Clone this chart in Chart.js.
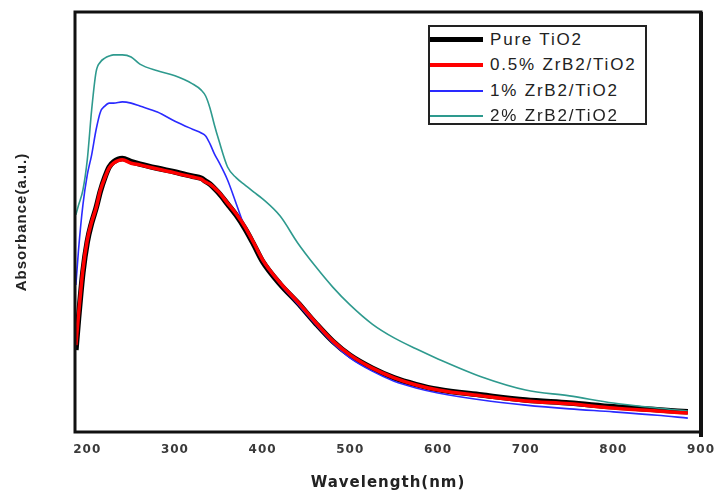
<!DOCTYPE html>
<html>
<head>
<meta charset="utf-8">
<script src="https://cdn.jsdelivr.net/npm/chart.js@4/dist/chart.umd.min.js"></script>
<style>
  html, body { margin: 0; padding: 0; background: #fff; }
  #wrap { position: relative; width: 718px; height: 497px; }
  #legend {
    position: absolute; left: 428px; top: 25px; width: 215px; height: 96px;
    border: 2px solid #222; background: #fff; box-sizing: content-box;
    font-family: "Liberation Sans", Arial, sans-serif; font-size: 17px;
    letter-spacing: 1.8px; color: #222;
  }
  .row { position: relative; height: 25.5px; }
  .sample { position: absolute; left: 0px; width: 53px; }
  .txt { position: absolute; left: 60px; top: 50%; transform: translateY(-50%); white-space: nowrap; }
</style>
</head>
<body>
<div id="wrap">
  <canvas id="c" width="718" height="497"></canvas>
  <div id="legend"></div>
</div>
<script>
const wavelength = [187,190,195,200,205,210,215,220,225,230,240,250,260,280,300,320,330,335,340,345,350,360,370,380,390,400,420,440,460,480,500,525,550,575,600,650,700,750,800,850,885];
const pureTiO2 = [19.5,27.0,38.0,45.3,49.8,53.3,57.4,60.6,63.1,64.3,65.1,64.4,63.8,62.8,61.9,60.9,60.4,59.7,59.0,58.0,56.9,54.3,51.6,48.4,44.6,40.6,35.2,30.8,26.0,21.6,18.2,15.2,12.9,11.3,10.1,8.8,7.6,6.9,6.0,5.3,4.8];
const zrb2_05 = [20.7,27.9,38.6,45.7,50.0,53.3,57.6,60.5,62.9,64.0,64.8,64.0,63.6,62.6,61.7,60.7,60.2,59.5,59.0,58.1,57.1,54.5,51.9,48.8,45.0,41.0,35.5,31.0,26.2,21.7,18.3,15.2,12.9,11.2,10.0,8.6,7.4,6.7,5.7,5.0,4.5];
const zrb2_1 = [35.0,43.3,54.0,61.2,66.0,71.9,76.2,77.6,78.3,78.3,78.6,78.3,77.6,76.2,74.0,72.1,71.2,70.5,68.6,66.2,64.3,60.0,54.3,48.6,44.8,40.7,35.2,30.5,25.7,21.2,17.6,14.5,12.1,10.5,9.3,7.6,6.4,5.5,4.8,4.0,3.3];
const zrb2_2 = [51.7,54.0,57.6,64.8,76.7,85.7,88.1,89.0,89.5,89.8,89.8,89.3,87.6,86.0,84.8,82.9,81.4,80.0,77.1,73.1,69.5,63.1,60.5,58.8,57.1,55.5,51.4,45.0,39.5,34.5,30.2,25.7,22.4,19.8,17.4,13.1,10.0,8.6,6.9,5.7,5.0];
const seriesNames = ["Pure TiO2", "0.5% ZrB2/TiO2", "1% ZrB2/TiO2", "2% ZrB2/TiO2"];
const xTickValues = [200,300,400,500,600,700,800,900];

function pts(ys) { return wavelength.map((x, i) => ({ x: x, y: ys[i] })); }

const framePlugin = {
  id: 'frame',
  beforeDraw(chart) { chart.ctx.letterSpacing = '1px'; },
  afterDatasetsDraw(chart) {
    const a = chart.chartArea, ctx = chart.ctx;
    ctx.save();
    ctx.strokeStyle = '#111';
    ctx.lineWidth = 3;
    ctx.strokeRect(a.left, a.top, a.right - a.left, a.bottom - a.top);
    ctx.lineWidth = 4;
    ctx.beginPath();
    ctx.moveTo(a.right, a.top);
    ctx.lineTo(a.right, a.bottom + 5);
    ctx.stroke();
    ctx.restore();
  }
};

const htmlLegend = {
  id: 'htmlLegend',
  afterUpdate(chart) {
    const box = document.getElementById('legend');
    box.innerHTML = '';
    chart.data.datasets.forEach(ds => {
      const row = document.createElement('div');
      row.className = 'row';
      const s = document.createElement('div');
      s.className = 'sample';
      const h = ds.legendWidth;
      s.style.height = h + 'px';
      s.style.top = 'calc(50% - ' + (h / 2) + 'px)';
      s.style.background = ds.borderColor;
      const t = document.createElement('span');
      t.className = 'txt';
      t.textContent = ds.label;
      row.appendChild(s); row.appendChild(t);
      box.appendChild(row);
    });
  }
};

new Chart(document.getElementById('c'), {
  type: 'line',
  data: {
    datasets: [
      { label: seriesNames[0], data: pts(pureTiO2), borderColor: '#000000', borderWidth: 5.5, legendWidth: 5, order: 3 },
      { label: seriesNames[1], data: pts(zrb2_05), borderColor: '#ff0000', borderWidth: 3.5, legendWidth: 4, order: 0 },
      { label: seriesNames[2], data: pts(zrb2_1), borderColor: '#2a2aff', borderWidth: 1.6, legendWidth: 2, order: 2 },
      { label: seriesNames[3], data: pts(zrb2_2), borderColor: '#2e9a8e', borderWidth: 1.6, legendWidth: 2, order: 1 }
    ]
  },
  options: {
    responsive: false,
    animation: false,
    devicePixelRatio: 1,
    layout: { padding: { left: 0, top: 12, right: 17, bottom: 0 } },
    elements: {
      point: { radius: 0 },
      line: { cubicInterpolationMode: 'monotone', fill: false }
    },
    plugins: { legend: { display: false }, tooltip: { enabled: false } },
    scales: {
      x: {
        type: 'linear', min: 186, max: 900,
        grid: { display: false, drawTicks: false },
        border: { display: false },
        ticks: { includeBounds: false, padding: 11, color: '#3a3a3a', font: { family: 'DejaVu Sans', weight: 'bold', size: 12 } },
        afterBuildTicks(s) { s.ticks = xTickValues.map(v => ({ value: v })); },
        afterFit(s) { s.height = 65; s.paddingRight = 0; s.paddingLeft = 0; },
        title: { display: true, text: 'Wavelength(nm)', color: '#222', padding: { top: 0, bottom: 5 }, font: { family: 'DejaVu Sans', weight: 'bold', size: 15 } }
      },
      y: {
        min: 0, max: 100,
        grid: { display: false, drawTicks: false },
        border: { display: false },
        ticks: { display: false },
        afterFit(s) { s.width = 75; s.paddingTop = 0; s.paddingBottom = 0; },
        title: { display: true, text: 'Absorbance(a.u.)', color: '#222', padding: { top: 13, bottom: 0 }, font: { family: 'Liberation Sans', weight: 'bold', size: 15 } }
      }
    }
  },
  plugins: [framePlugin, htmlLegend]
});
</script>
</body>
</html>
